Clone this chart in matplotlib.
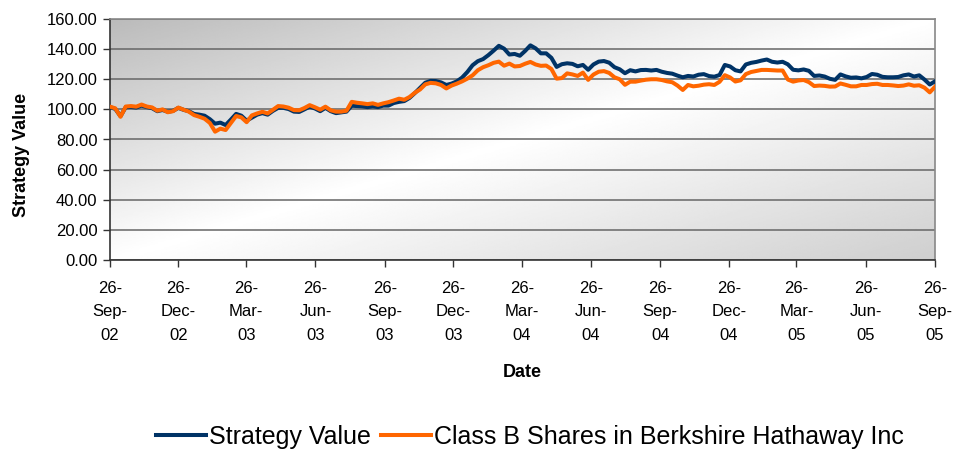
import numpy as np
import pandas as pd
import matplotlib
matplotlib.use('Agg')
from matplotlib import pyplot as plt

plt.rcParams['font.family'] = ['Liberation Sans', 'DejaVu Sans']

start_date = '2002-09-26'
end_date = '2005-09-26'

# weekly readings of the two series
strategy_value = [101.5, 100.3, 95.5, 101.5, 101.6, 101.2, 102.5, 101.5, 100.8, 98.8,
                  99.6, 98.4, 99.0, 101.0, 99.7, 98.8, 97.0, 96.5, 95.8, 93.5,
                  90.5, 91.2, 89.6, 93.2, 97.0, 95.8, 92.5, 94.5, 96.5, 97.5,
                  96.5, 99.0, 101.0, 101.0, 100.2, 98.5, 98.3, 100.0, 101.8, 100.6,
                  98.8, 101.0, 98.8, 97.5, 98.0, 98.5, 102.4, 102.2, 102.0, 101.5,
                  102.0, 101.5, 102.5, 102.5, 104.2, 105.0, 105.5, 107.6, 110.8, 114.3,
                  117.7, 118.9, 118.8, 117.9, 116.2, 117.1, 118.6, 121.1, 124.8, 129.3,
                  132.0, 133.4, 136.0, 139.0, 142.2, 140.3, 136.4, 136.8, 135.6, 138.8,
                  142.5, 140.5, 137.2, 137.2, 134.2, 128.2, 130.0, 130.6, 130.2, 128.6,
                  129.5, 126.3, 129.8, 131.7, 132.1, 131.0, 128.0, 126.6, 124.0, 126.0,
                  125.2, 126.1, 126.2, 125.8, 126.2, 125.0, 124.2, 123.7, 122.4, 121.3,
                  122.2, 121.8, 123.0, 123.4, 122.1, 121.7, 122.8, 129.5, 128.5, 126.0,
                  125.2, 129.8, 130.9, 131.5, 132.4, 133.1, 131.6, 131.1, 131.6, 129.9,
                  126.3, 125.9, 126.5, 125.6, 122.2, 122.5, 121.8, 120.3, 119.6, 123.2,
                  121.9, 121.0, 121.2, 120.6, 121.5, 123.5, 123.0, 121.6, 121.3, 121.3,
                  121.5, 122.6, 123.2, 121.8, 122.6, 119.8, 116.5, 118.6]

brk_b = [101.8, 100.7, 95.1, 101.9, 102.2, 101.8, 103.2, 101.9, 101.3, 99.1,
         100.0, 98.1, 98.8, 101.2, 99.8, 98.5, 96.2, 95.1, 93.8, 91.0,
         85.2, 87.2, 86.3, 90.9, 95.6, 94.7, 91.5, 96.0, 97.3, 98.4,
         97.3, 99.7, 102.2, 101.9, 101.1, 99.5, 99.4, 100.9, 102.8, 101.4,
         99.8, 101.8, 99.4, 98.5, 98.5, 99.1, 105.0, 104.4, 104.0, 103.5,
         104.0, 103.0, 104.0, 104.8, 105.9, 107.1, 106.4, 108.2, 111.0, 113.2,
         116.6, 117.6, 117.3, 116.2, 113.9, 115.8, 117.1, 118.6, 120.4, 122.6,
         126.0, 128.0, 129.3, 130.9, 131.7, 129.0, 130.4, 128.5, 128.8, 130.3,
         131.5, 129.8, 128.9, 129.1, 126.8, 120.4, 120.8, 123.9, 123.2, 122.2,
         124.4, 119.6, 123.1, 125.0, 125.4, 124.2, 121.3, 120.0, 116.3, 118.4,
         118.4, 119.1, 119.7, 120.0, 120.0, 119.5, 118.6, 118.0, 115.8, 112.9,
         116.2, 115.3, 115.7, 116.4, 116.7, 116.2, 118.3, 122.7, 121.2, 118.5,
         119.3, 123.4, 124.8, 125.5, 126.2, 126.2, 126.0, 125.8, 125.8, 119.8,
         118.4, 119.2, 119.5, 118.1, 115.5, 115.8, 115.6, 115.1, 115.2, 117.2,
         116.3, 115.3, 115.3, 116.2, 116.2, 116.8, 117.0, 116.2, 116.2, 115.9,
         115.5, 115.8, 116.6, 115.7, 116.0, 114.4, 111.3, 115.0]

y_ticks = [0, 20, 40, 60, 80, 100, 120, 140, 160]

dates = pd.date_range(start_date, end_date, periods=len(brk_b))
tick_dates = pd.date_range('2002-09-01', '2005-09-01', freq='3MS') + pd.Timedelta(days=25)
tick_labels = [d.strftime('%d-\n%b-\n%y') for d in tick_dates]

fig = plt.figure(figsize=(9.58, 4.51), dpi=100)
ax = fig.add_axes([110/958, 1-260/451, 825/958, 241/451])

# diagonal grey-white-grey background like the excel plot area
u, v = np.meshgrid(np.linspace(0, 1, 300), np.linspace(0, 1, 200))
d = (u + v) / 2
shade = np.where(d < 0.5, 1 - 0.27 * (1 - 2 * d), 1 - 0.19 * (2 * d - 1))
ax.imshow(shade, cmap='gray', vmin=0, vmax=1, extent=(0, 1, 0, 1),
          transform=ax.transAxes, aspect='auto', zorder=0, origin='upper')

ax.plot(dates, strategy_value, color='#003366', linewidth=2.9, label='Strategy Value', zorder=3)
ax.plot(dates, brk_b, color='#FF6600', linewidth=2.9,
        label='Class B Shares in Berkshire Hathaway Inc', zorder=4)

ax.set_xlim(pd.Timestamp(start_date), pd.Timestamp(end_date))
ax.set_ylim(0, 160)
ax.set_yticks(y_ticks)
ax.set_yticklabels(['%.2f' % t for t in y_ticks])
ax.set_xticks(tick_dates)
ax.set_xticklabels(tick_labels, linespacing=1.7)
ax.tick_params(axis='both', labelsize=12, length=5, width=1, color='#333333', direction='out')
ax.tick_params(axis='x', pad=10)
ax.tick_params(axis='y', pad=4)

ax.grid(True, axis='y', color='#666666', linewidth=1.1, zorder=1)
ax.set_axisbelow(True)
for s in ['top', 'right']:
    ax.spines[s].set_color('#888888')
    ax.spines[s].set_linewidth(1.2)
for s in ['left', 'bottom']:
    ax.spines[s].set_color('#333333')
    ax.spines[s].set_linewidth(1.2)

ax.set_xlabel('Date', fontsize=13, fontweight='bold')
ax.set_ylabel('Strategy Value', fontsize=13, fontweight='bold')
ax.xaxis.set_label_coords(0.5, -0.43)
ax.yaxis.set_label_coords(-0.097, 0.436)

fig.legend(loc='center', bbox_to_anchor=(530/958, 1-437/451), ncol=2, frameon=False,
           fontsize=18, handlelength=2.0, handletextpad=0.12, columnspacing=0.4)

plt.savefig('out.png', dpi=100)
